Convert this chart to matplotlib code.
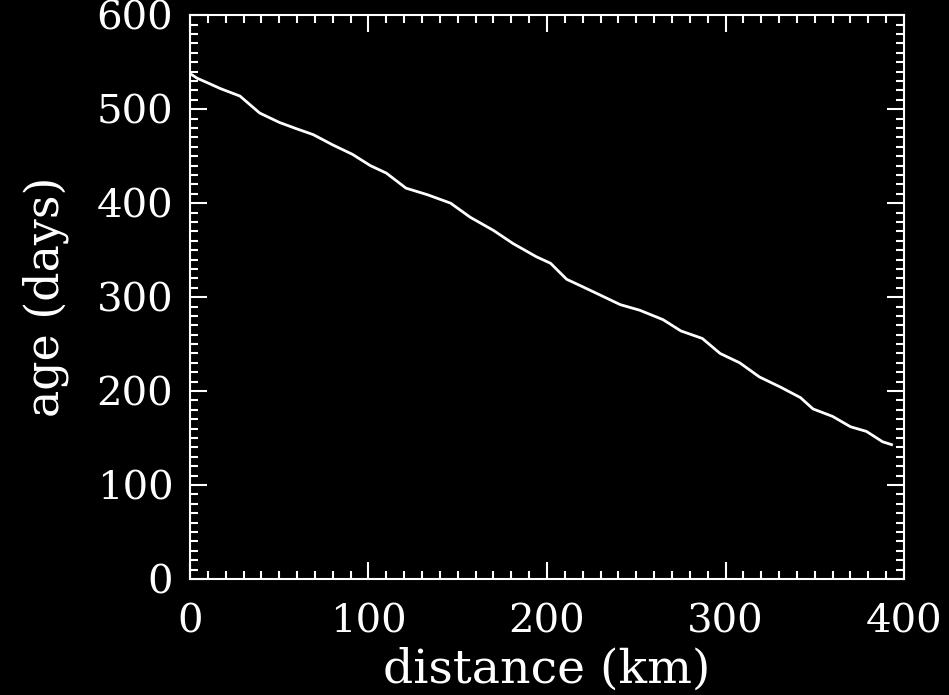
import matplotlib
matplotlib.use('Agg')
import matplotlib.pyplot as plt
from matplotlib.ticker import MultipleLocator

# distance (km) and age (days)
distance = [0, 4, 10, 17, 28, 39, 50, 60, 69, 80, 91, 101, 110, 121, 133,
            146, 157, 170, 181, 194, 202, 211, 220, 230, 241, 252, 265,
            275, 287, 297, 308, 319, 331, 342, 349, 360, 370, 379, 388, 393]
age = [538, 533, 528, 522, 514, 496, 486, 479, 473, 462, 452, 440, 432,
       416, 409, 400, 385, 371, 357, 343, 336, 319, 311, 302, 292, 286,
       276, 264, 256, 240, 230, 215, 204, 193, 181, 173, 162, 157, 146, 143]

plt.rcParams['font.family'] = ['DejaVu Serif']

fig = plt.figure(figsize=(9.49, 6.95), dpi=100, facecolor='black')
ax = fig.add_axes([0.2002, 0.167, 0.7524, 0.811])
ax.set_facecolor('black')

ax.plot(distance, age, color='white', lw=2)

ax.set_xlim(0, 400)
ax.set_ylim(0, 600)
ax.xaxis.set_major_locator(MultipleLocator(100))
ax.xaxis.set_minor_locator(MultipleLocator(10))
ax.yaxis.set_major_locator(MultipleLocator(100))
ax.yaxis.set_minor_locator(MultipleLocator(10))

for s in ax.spines.values():
    s.set_color('white')
    s.set_linewidth(1.5)

ax.tick_params(which='both', direction='in', colors='white', top=True, right=True,
               labelsize=29, width=1.5)
ax.tick_params(axis='x', which='major', length=12, pad=18)
ax.tick_params(axis='y', which='major', length=12, pad=12)
ax.tick_params(which='minor', length=6)

ax.set_xlabel('distance (km)', color='white', fontsize=34, labelpad=5)
ax.set_ylabel('age (days)', color='white', fontsize=33, labelpad=20)

fig.savefig('out.png', dpi=100, facecolor='black')
